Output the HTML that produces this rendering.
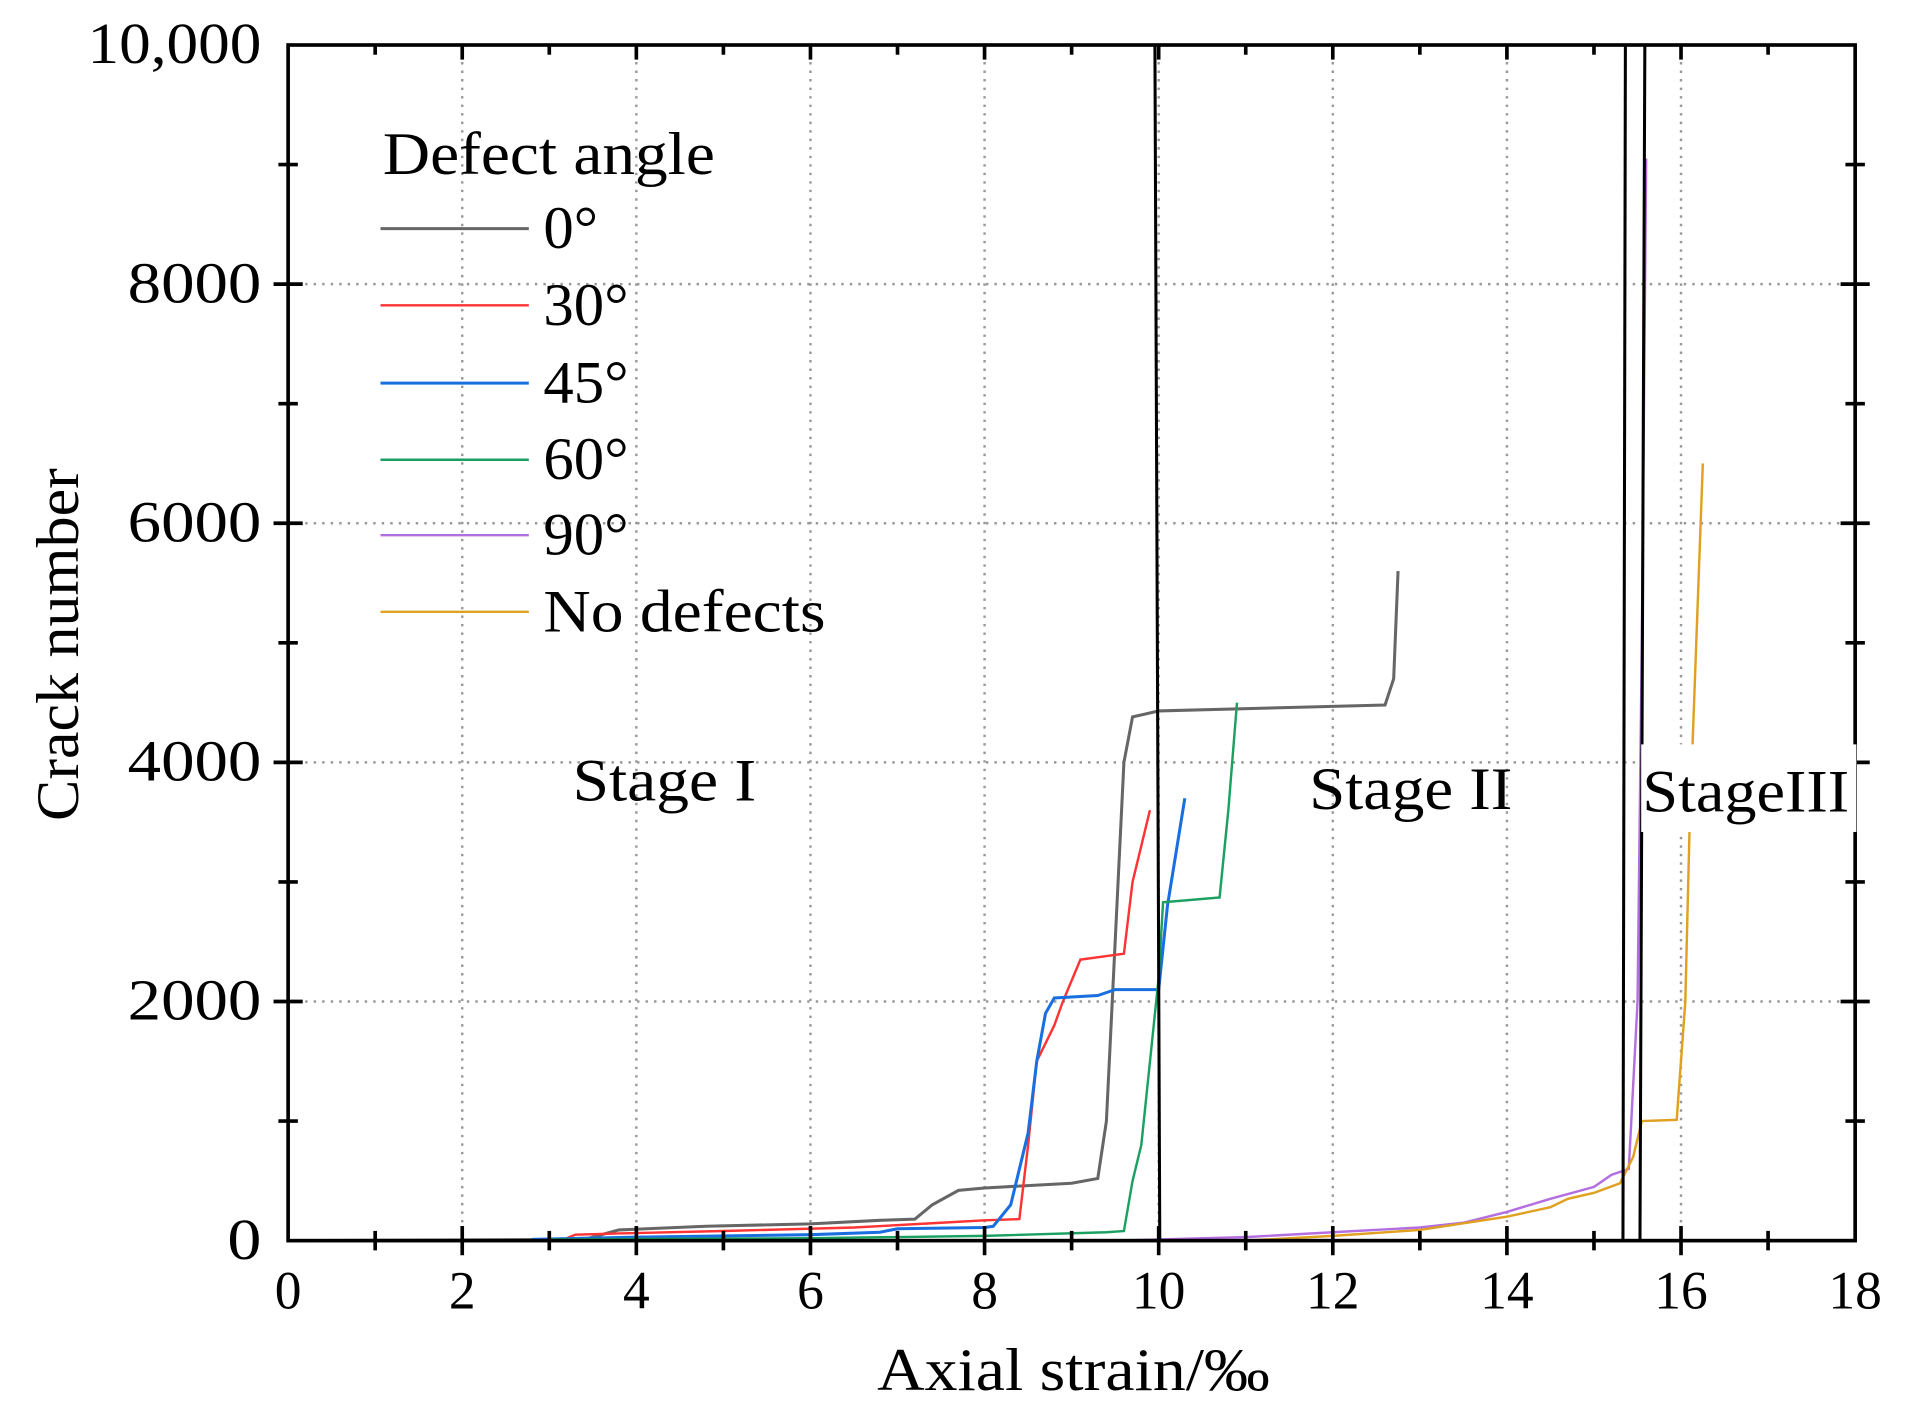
<!DOCTYPE html>
<html><head><meta charset="utf-8"><style>
html,body{margin:0;padding:0;background:#fff}
svg{display:block}
text{font-family:"Liberation Serif",serif;fill:#000}
</style></head><body>
<svg id="s" width="1905" height="1417" viewBox="0 0 1567 1165" preserveAspectRatio="none" xmlns="http://www.w3.org/2000/svg">
<g id="grid" stroke="#999" stroke-width="2" stroke-dasharray="2,5"></g>
<g id="series" fill="none" stroke-width="2"></g>
<line x1="950" y1="37" x2="954" y2="1020" stroke="#000" stroke-width="2.5"/>
<line x1="1337" y1="37" x2="1335" y2="1020" stroke="#000" stroke-width="2.5"/>
<line x1="1353" y1="37" x2="1349" y2="1020" stroke="#000" stroke-width="2.5"/>
<rect x="237" y="37" width="1289" height="983" fill="none" stroke="#000" stroke-width="3"/>
<g id="ticks" stroke="#000" stroke-width="3"></g>
<g id="labels" font-size="44"></g>
<text x="315" y="143" font-size="50" textLength="273" lengthAdjust="spacingAndGlyphs">Defect angle</text>
<g font-size="50">
<line x1="313" y1="188" x2="435" y2="188" stroke="#666" stroke-width="2.5"/><text x="447" y="204">0°</text>
<line x1="313" y1="251" x2="435" y2="251" stroke="#f33" stroke-width="2"/><text x="447" y="267">30°</text>
<line x1="313" y1="315" x2="435" y2="315" stroke="#1a6fe0" stroke-width="2.5"/><text x="447" y="331">45°</text>
<line x1="313" y1="378" x2="435" y2="378" stroke="#1aa060" stroke-width="2"/><text x="447" y="394">60°</text>
<line x1="313" y1="440" x2="435" y2="440" stroke="#b46ee0" stroke-width="2"/><text x="447" y="456">90°</text>
<line x1="313" y1="503" x2="435" y2="503" stroke="#e0a020" stroke-width="2"/><text x="447" y="519" textLength="232" lengthAdjust="spacingAndGlyphs">No defects</text>
</g>
<text x="471" y="658" font-size="50" textLength="151" lengthAdjust="spacingAndGlyphs">Stage I</text>
<text x="1077" y="665" font-size="50" textLength="167" lengthAdjust="spacingAndGlyphs">Stage II</text>
<rect x="1350" y="612" width="177" height="72" fill="#fff"/>
<text x="1351" y="667" font-size="50" textLength="170" lengthAdjust="spacingAndGlyphs">StageIII</text>
<text transform="translate(64,530) rotate(-90)" text-anchor="middle" font-size="50" textLength="290" lengthAdjust="spacingAndGlyphs">Crack number</text>
<text x="883" y="1143" text-anchor="middle" font-size="50" textLength="323" lengthAdjust="spacingAndGlyphs">Axial strain/‰</text>
</svg>
<script>
const NS="http://www.w3.org/2000/svg";
const X=x=>237+71.61*x, Y=y=>1020-0.0983*y;
function el(p,t,a,txt){const e=document.createElementNS(NS,t);for(const k in a)e.setAttribute(k,a[k]);if(txt!==undefined)e.textContent=txt;document.getElementById(p).appendChild(e);}
for(let i=2;i<18;i+=2)el('grid','line',{x1:X(i),y1:37,x2:X(i),y2:1020});
for(let v=2000;v<10000;v+=2000)el('grid','line',{x1:237,y1:Y(v),x2:1526,y2:Y(v)});
for(let i=1;i<18;i++){const L=i%2?8:12;el('ticks','line',{x1:X(i),y1:1020-L,x2:X(i),y2:1020+L});el('ticks','line',{x1:X(i),y1:37,x2:X(i),y2:37+L});}
for(let v=1000;v<10000;v+=1000){const L=v%2000?8:12;el('ticks','line',{x1:237-L,y1:Y(v),x2:237+L,y2:Y(v)});el('ticks','line',{x1:1526-L,y1:Y(v),x2:1526+L,y2:Y(v)});}
for(let i=0;i<=18;i+=2)el('labels','text',{x:X(i),y:1076,'text-anchor':'middle'},String(i));
const yl=[[0,'0',28],[2000,'2000',110],[4000,'4000',110],[6000,'6000',110],[8000,'8000',110],[10000,'10,000',143]];
yl.forEach(([v,t,w])=>el('labels','text',{x:215-w,y:Y(v)+15,'font-size':48,textLength:w,lengthAdjust:'spacingAndGlyphs'},t));
const S=[
['#666',2.5,[[0,0],[3.4,10],[3.5,30],[3.8,90],[4.8,120],[6,140],[6.8,170],[7.2,180],[7.4,300],[7.7,420],[8,440],[9,480],[9.3,520],[9.4,1000],[9.5,2500],[9.6,4000],[9.7,4380],[10,4430],[12.6,4480],[12.7,4700],[12.75,5600]]],
['#f33',2,[[3.2,20],[3.3,50],[3.8,60],[5,80],[6.5,110],[7.5,150],[8,170],[8.4,180],[8.5,800],[8.6,1500],[8.8,1800],[8.9,2000],[9.1,2350],[9.4,2380],[9.6,2400],[9.7,3000],[9.9,3600]]],
['#1a6fe0',2.5,[[2.8,10],[4,30],[6,50],[6.8,70],[7,100],[8,110],[8.1,120],[8.3,300],[8.5,900],[8.6,1500],[8.7,1900],[8.8,2030],[9.3,2050],[9.5,2100],[10,2100],[10.1,2800],[10.3,3700]]],
['#1aa060',2,[[3,10],[6,20],[8,40],[9.4,70],[9.6,80],[9.7,500],[9.8,800],[10,2200],[10.05,2830],[10.7,2870],[10.8,3600],[10.9,4500]]],
['#b46ee0',2,[[9.5,0],[10,10],[11,30],[12,70],[13,110],[13.5,150],[14,240],[14.5,350],[15,450],[15.2,550],[15.4,600],[15.5,2000],[15.55,5000],[15.6,9050]]],
['#e0a020',2,[[11,0],[12,40],[13,90],[14,200],[14.5,280],[14.7,350],[15,400],[15.3,480],[15.45,700],[15.55,1000],[15.95,1010],[16.05,2000],[16.1,3500],[16.25,6500]]]
];
S.forEach(([c,w,p])=>el('series','path',{stroke:c,'stroke-width':w,d:'M'+p.map(q=>X(q[0]).toFixed(1)+','+Y(q[1]).toFixed(1)).join('L')}));
</script>
</body></html>
